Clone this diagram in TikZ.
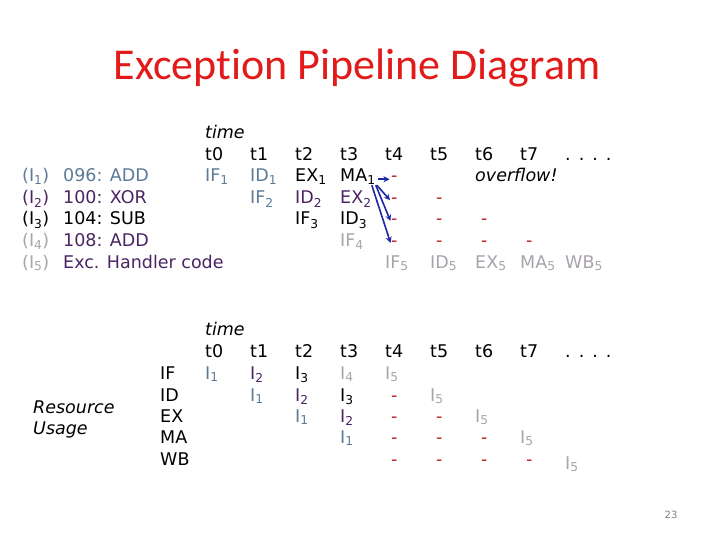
\documentclass[tikz,border=0pt]{standalone}
\usepackage{fontspec}
\setmainfont{DejaVu Sans}
\newfontfamily\titlefont[Ligatures=NoCommon]{Carlito}
\usepackage{xcolor}
\usetikzlibrary{arrows.meta}

\definecolor{titlered}{HTML}{E31A1A}
\definecolor{ione}{HTML}{5C7B99}
\definecolor{itwo}{HTML}{4B2463}
\definecolor{ifour}{HTML}{A9A3AC}
\definecolor{dashred}{HTML}{BE1E28}
\definecolor{flowblue}{HTML}{1E28A6}

\newcommand\low[1]{\textsubscript{#1}}
\newcommand\dotrow{.\hspace{8pt}.\hspace{8pt}.\hspace{8pt}.}

\begin{document}
\begin{tikzpicture}[
    x=1pt, y=-1pt,
    font=\fontsize{17.5}{21}\selectfont,
    >={Stealth[length=6pt, width=6pt]},
    % Styles
    cell/.style={anchor=base west, inner sep=0pt},
    first/.style={cell, text=ione},
    second/.style={cell, text=itwo},
    fourth/.style={cell, text=ifour},
    stall/.style={cell, text=dashred, xshift=6pt},
    flow/.style={->, draw=flowblue, line width=1.6pt, shorten >=1.5pt}
]
\fill[white] (0,0) rectangle (720,540);
\useasboundingbox (0,0) rectangle (720,540);

% --- Title ---
\node[anchor=base, inner sep=0pt, text=titlered, font=\titlefont\fontsize{44}{50}\selectfont] (title) at (357,80) {Exception Pipeline Diagram};

% --- Program (Top) ---
\node[first] (li1) at (22,182) {(I\low{1})};
\node[first] (ci1) at (63,182) {096: ADD};
\node[second] (li2) at (22,204) {(I\low{2})};
\node[second] (ci2) at (63,204) {100: XOR};
\node[cell] (li3) at (22,225) {(I\low{3})};
\node[cell] (ci3) at (63,225) {104: SUB};
\node[fourth] (li4) at (22,247) {(I\low{4})};
\node[second] (ci4) at (63,247) {108: ADD};
\node[fourth] (li5) at (22,268) {(I\low{5})};
\node[second] (ci5) at (63,268) {Exc. Handler code};

% time axis
\node[cell] (toptime) at (205,139) {\itshape time};
\node[cell] (top0) at (205,161) {t0};
\node[cell] (top1) at (250,161) {t1};
\node[cell] (top2) at (295,161) {t2};
\node[cell] (top3) at (340,161) {t3};
\node[cell] (top4) at (385,161) {t4};
\node[cell] (top5) at (430,161) {t5};
\node[cell] (top6) at (475,161) {t6};
\node[cell] (top7) at (520,161) {t7};
\node[cell] (topdots) at (565,161) {\dotrow};

% stages of each instruction
\node[first] (if1) at (205,182) {IF\low{1}};
\node[first] (id1) at (250,182) {ID\low{1}};
\node[cell] (ex1) at (295,182) {EX\low{1}};
\node[cell] (ma1) at (340,182) {MA\low{1}};
\node[stall] (d14) at (385,182) {-};
\node[cell] (overflow) at (475,182) {\itshape overflow!};

\node[first] (if2) at (250,204) {IF\low{2}};
\node[second] (id2) at (295,204) {ID\low{2}};
\node[second] (ex2) at (340,204) {EX\low{2}};
\node[stall] (d24) at (385,204) {-};
\node[stall] (d25) at (430,204) {-};

\node[cell] (if3) at (295,225) {IF\low{3}};
\node[cell] (id3) at (340,225) {ID\low{3}};
\node[stall] (d34) at (385,225) {-};
\node[stall] (d35) at (430,225) {-};
\node[stall] (d36) at (475,225) {-};

\node[fourth] (if4) at (340,247) {IF\low{4}};
\node[stall] (d44) at (385,247) {-};
\node[stall] (d45) at (430,247) {-};
\node[stall] (d46) at (475,247) {-};
\node[stall] (d47) at (520,247) {-};

\node[fourth] (if5) at (385,268) {IF\low{5}};
\node[fourth] (id5) at (430,268) {ID\low{5}};
\node[fourth] (ex5) at (475,268) {EX\low{5}};
\node[fourth] (ma5) at (520,268) {MA\low{5}};
\node[fourth] (wb5) at (565,268) {WB\low{5}};

% flush arrows
\draw[flow] ([xshift=2pt]ma1.east |- d14.west) -- (d14.west);
\draw[flow] ([xshift=1pt]ma1.south east) -- (d24.west);
\draw[flow] ([xshift=0pt]ma1.south east) -- (d34.west);
\draw[flow] ([xshift=-4pt]ma1.south east) -- (d44.west);

% --- Resource Usage (Bottom) ---
\node[cell] (res1) at (33,413) {\itshape Resource};
\node[cell] (res2) at (33,434) {\itshape Usage};

\node[cell] (sif) at (160,379) {IF};
\node[cell] (sid) at (160,401) {ID};
\node[cell] (sex) at (160,422) {EX};
\node[cell] (sma) at (160,443) {MA};
\node[cell] (swb) at (160,465) {WB};

% time axis
\node[cell] (bottime) at (205,335) {\itshape time};
\node[cell] (bot0) at (205,357) {t0};
\node[cell] (bot1) at (250,357) {t1};
\node[cell] (bot2) at (295,357) {t2};
\node[cell] (bot3) at (340,357) {t3};
\node[cell] (bot4) at (385,357) {t4};
\node[cell] (bot5) at (430,357) {t5};
\node[cell] (bot6) at (475,357) {t6};
\node[cell] (bot7) at (520,357) {t7};
\node[cell] (botdots) at (565,357) {\dotrow};

% IF
\node[first] (uif0) at (205,379) {I\low{1}};
\node[second] (uif1) at (250,379) {I\low{2}};
\node[cell] (uif2) at (295,379) {I\low{3}};
\node[fourth] (uif3) at (340,379) {I\low{4}};
\node[fourth] (uif4) at (385,379) {I\low{5}};
% ID
\node[first] (uid1) at (250,401) {I\low{1}};
\node[second] (uid2) at (295,401) {I\low{2}};
\node[cell] (uid3) at (340,401) {I\low{3}};
\node[stall] (uid4) at (385,401) {-};
\node[fourth] (uid5) at (430,401) {I\low{5}};
% EX
\node[first] (uex2) at (295,422) {I\low{1}};
\node[second] (uex3) at (340,422) {I\low{2}};
\node[stall] (uex4) at (385,422) {-};
\node[stall] (uex5) at (430,422) {-};
\node[fourth] (uex6) at (475,422) {I\low{5}};
% MA
\node[first] (uma3) at (340,443) {I\low{1}};
\node[stall] (uma4) at (385,443) {-};
\node[stall] (uma5) at (430,443) {-};
\node[stall] (uma6) at (475,443) {-};
\node[fourth] (uma7) at (520,443) {I\low{5}};
% WB
\node[stall] (uwb4) at (385,465) {-};
\node[stall] (uwb5) at (430,465) {-};
\node[stall] (uwb6) at (475,465) {-};
\node[stall] (uwb7) at (520,465) {-};
\node[fourth] (uwb8) at (565,469) {I\low{5}};

% page number
\node[text=gray, font=\fontsize{10}{12}\selectfont] (pagenum) at (671,515) {23};

\end{tikzpicture}
\end{document}
